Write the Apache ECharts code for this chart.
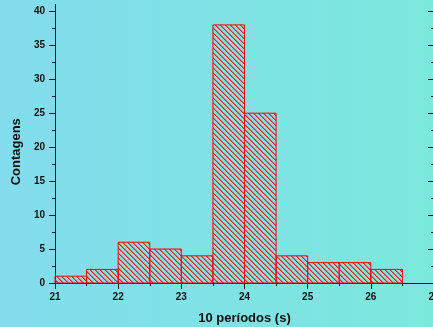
<!DOCTYPE html>
<html>
<head>
<meta charset="utf-8">
<script src="https://cdn.jsdelivr.net/npm/echarts@6/dist/echarts.min.js"></script>
<style>
html,body{margin:0;padding:0;}
#c{width:433px;height:327px;}
</style>
</head>
<body>
<div id="c"></div>
<script>
// Histogram data: bin lower edge, bin upper edge, count
const binLower = [21, 21.5, 22, 22.5, 23, 23.5, 24, 24.5, 25, 25.5, 26];
const binUpper = [21.5, 22, 22.5, 23, 23.5, 24, 24.5, 25, 25.5, 26, 26.5];
const counts   = [1, 2, 6, 5, 4, 38, 25, 4, 3, 3, 2];
const yMajorTicks = [0, 5, 10, 15, 20, 25, 30, 35, 40];
const yMinorTicks = [2.5, 7.5, 12.5, 17.5, 22.5, 27.5, 32.5, 37.5];
const xTitle = '10 períodos (s)';
const yTitle = 'Contagens';

const font = 'Arial, "Liberation Sans", sans-serif';
const axisColor = '#1a1a1a';

// hatch pattern "\\"
const P = 5;
const pc = document.createElement('canvas');
pc.width = P; pc.height = P;
const ctx = pc.getContext('2d');
for (let i = 0; i < P; i++) {
  ctx.fillStyle = '#ff1a1a';
  ctx.fillRect(i, i, 1, 1);
  ctx.fillStyle = 'rgba(255,30,30,0.55)';
  ctx.fillRect((i + 1) % P, i, 1, 1);
}
const pattern = { image: pc, repeat: 'repeat' };

const data = binLower.map((lo, i) => [lo, binUpper[i], counts[i]]);

const chart = echarts.init(document.getElementById('c'), null, { renderer: 'canvas' });

const lineStyle = { color: axisColor, width: 1 };
const yBase = { type: 'value', min: 0, max: 41, splitLine: { show: false } };

chart.setOption({
  animation: false,
  backgroundColor: new echarts.graphic.LinearGradient(0, 0, 1, 0, [
    { offset: 0, color: '#83dced' },
    { offset: 1, color: '#7ce8dd' }
  ]),
  grid: { left: 55, right: -1, top: 4.5, bottom: 44, containLabel: false, outerBoundsMode: 'none' },
  xAxis: [
    {
      type: 'value', position: 'bottom', min: 21, max: 27, interval: 1,
      splitLine: { show: false },
      axisLine: { show: true, lineStyle: lineStyle },
      axisTick: { show: true, inside: false, length: 6, lineStyle: lineStyle },
      minorTick: { show: true, splitNumber: 2, length: 3, lineStyle: lineStyle },
      axisLabel: { color: '#111', fontWeight: 'bold', fontSize: 10, fontFamily: font, margin: 9, hideOverlap: false },
      name: xTitle, nameLocation: 'middle', nameGap: 29,
      nameTextStyle: { color: '#111', fontWeight: 'bold', fontSize: 13, fontFamily: font }
    },
    {
      type: 'value', position: 'top', min: 21, max: 27, interval: 1,
      splitLine: { show: false },
      axisLine: { show: true, lineStyle: lineStyle },
      axisTick: { show: true, inside: true, length: 6, lineStyle: lineStyle },
      minorTick: { show: true, splitNumber: 2, length: 3, lineStyle: lineStyle },
      axisLabel: { show: false }
    }
  ],
  yAxis: [
    Object.assign({}, yBase, {
      position: 'left',
      axisLine: { show: true, lineStyle: lineStyle },
      axisTick: { show: true, inside: false, length: 6, customValues: yMajorTicks, lineStyle: lineStyle },
      axisLabel: { show: true, customValues: yMajorTicks, color: '#111', fontWeight: 'bold', fontSize: 10, fontFamily: font, margin: 10 },
      name: yTitle, nameLocation: 'middle', nameGap: 28, nameRotate: 90,
      nameTextStyle: { color: '#111', fontWeight: 'bold', fontSize: 13, fontFamily: font, padding: [0, 16, 0, 0] }
    }),
    Object.assign({}, yBase, {
      position: 'left',
      axisLine: { show: false },
      axisTick: { show: true, inside: false, length: 3, customValues: yMinorTicks, lineStyle: lineStyle },
      axisLabel: { show: false }
    }),
    Object.assign({}, yBase, {
      position: 'right',
      axisLine: { show: true, lineStyle: lineStyle },
      axisTick: { show: true, inside: true, length: 6, customValues: yMajorTicks, lineStyle: lineStyle },
      axisLabel: { show: false }
    }),
    Object.assign({}, yBase, {
      position: 'right',
      axisLine: { show: false },
      axisTick: { show: true, inside: true, length: 3, customValues: yMinorTicks, lineStyle: lineStyle },
      axisLabel: { show: false }
    })
  ],
  series: [{
    type: 'custom',
    xAxisIndex: 0,
    yAxisIndex: 0,
    data: data,
    encode: { x: [0, 1], y: 2 },
    renderItem: function (params, api) {
      const p0 = api.coord([api.value(0), api.value(2)]);
      const p1 = api.coord([api.value(1), 0]);
      return {
        type: 'rect',
        shape: { x: p0[0], y: p0[1], width: p1[0] - p0[0], height: p1[1] - p0[1] },
        style: { fill: pattern, stroke: '#ff0000', lineWidth: 1 }
      };
    }
  }]
});
</script>
</body>
</html>
